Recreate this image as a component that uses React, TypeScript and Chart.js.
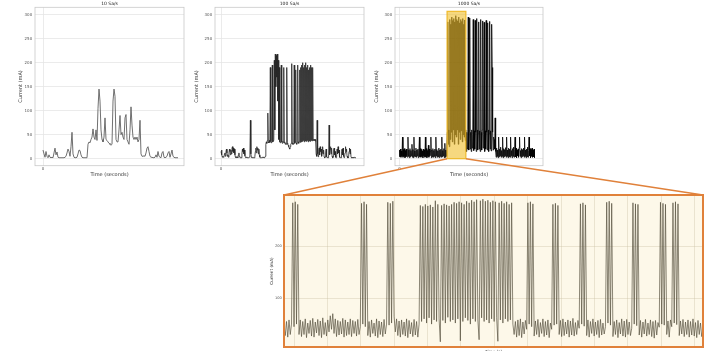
import React, { useEffect, useRef } from "react";
import { Chart, registerables } from "chart.js";
Chart.register(...registerables);

const FONT = "DejaVu Sans";

// ---- text ----
const panelTitles = ["10 Sa/s", "100 Sa/s", "1000 Sa/s"];
const xAxisTitle = "Time (seconds)";
const yAxisTitle = "Current (mA)";
const zoomXAxisTitle = "Time (s)";

// ---- ticks ----
const yTickValues = [0, 50, 100, 150, 200, 250, 300];
const xTickValues = [0];
const zoomYTickValues = [100, 200];
const zoomXGridValues = [4.8, 4.95, 5.1, 5.25, 5.4, 5.55, 5.7, 5.85, 6.0, 6.15, 6.3, 6.45, 6.6];

// ---- time ranges (s) ----
const recordDuration = 13.5;
const zoomWindow = [4.755, 6.637];
const highlightCurrentRange = [0, 307];

// ---- 10 Sa/s current (mA) ----
const current10 = [
  18, 10, 3, 15, 5, 2, 8, 3, 2, 3, 2, 12, 22, 8, 14, 3, 2, 2,
  2, 2, 2, 2, 3, 5, 12, 20, 15, 5, 25, 55, 10, 3, 2, 2, 3, 10, 18, 17,
  8, 3, 2, 2, 2, 2, 2, 30, 35, 33, 40, 45, 62, 45, 40, 60, 38, 105, 145, 120,
  60, 40, 35, 45, 85, 40, 38, 35, 32, 30, 28, 30, 120, 145, 130, 40, 35, 35, 60, 90,
  50, 55, 45, 40, 85, 92, 40, 35, 30, 60, 108, 70, 45, 40, 45, 40, 45, 35, 40, 80,
  10, 5, 5, 6, 5, 12, 22, 25, 15, 5, 3, 3, 2, 2, 3, 8, 3, 15, 5, 3,
  2, 12, 15, 3, 2, 3, 5, 12, 15, 3, 10, 18, 5, 3, 2, 2, 2, 2,
];

// ---- 100 Sa/s current (mA) ----
const current100 = [
  15, 18, 8, 3, 5, 3, 4, 10, 12, 5, 15, 20, 12, 5, 8, 3, 12, 20, 15, 8,
  18, 10, 22, 25, 15, 22, 12, 20, 8, 3, 2, 4, 2, 3, 2, 8, 12, 4, 3, 2,
  3, 2, 10, 20, 15, 22, 10, 18, 6, 3, 2, 3, 2, 2, 3, 2, 2, 3, 8, 80,
  10, 3, 2, 2, 3, 2, 3, 2, 5, 15, 22, 12, 25, 18, 22, 10, 20, 8, 3, 2,
  3, 2, 2, 3, 2, 3, 2, 2, 3, 5, 30, 35, 32, 38, 95, 35, 33, 38, 34, 190,
  36, 33, 37, 195, 35, 38, 40, 205, 60, 218, 150, 215, 170, 218, 120, 205, 40, 190, 35, 33,
  38, 195, 35, 32, 36, 34, 190, 33, 35, 30, 32, 30, 190, 32, 30, 28, 25, 22, 20, 25,
  30, 32, 198, 30, 33, 30, 34, 195, 32, 35, 185, 33, 30, 34, 195, 35, 32, 36, 185, 34,
  190, 35, 195, 36, 200, 38, 190, 35, 195, 37, 200, 36, 190, 38, 195, 35, 185, 37, 190, 36,
  195, 38, 190, 37, 190, 40, 38, 40, 38, 40, 36, 10, 5, 80, 10, 4, 15, 22, 8, 25,
  15, 20, 5, 12, 25, 10, 18, 4, 2, 3, 12, 20, 4, 2, 3, 2, 8, 70, 8, 20,
  25, 10, 22, 5, 2, 3, 18, 22, 8, 15, 3, 2, 3, 20, 10, 25, 12, 18, 3, 2,
  3, 2, 15, 20, 8, 22, 5, 2, 3, 12, 25, 15, 20, 5, 2, 3, 2, 15, 22, 10,
  20, 3, 2, 3, 2, 3, 2, 2, 3, 2, 2, 2,
];

// ---- 1000 Sa/s current (mA), shown in four stretches ----
const current1000Idle = [
  18, 4, 20, 3, 16, 6, 45, 3, 19, 5, 21, 2, 17, 4, 20, 6,
  3, 45, 5, 18, 2, 21, 4, 17, 6, 30, 3, 19, 2, 45, 5, 16,
  4, 22, 3, 18, 6, 20, 2, 17, 45, 4, 21, 3, 19, 5, 16, 2,
  20, 6, 18, 3, 45, 4, 21, 2, 17, 5, 28, 3, 20, 6, 16, 45,
  2, 18, 4, 21, 3, 17, 5, 20, 2, 45, 6, 19, 3, 16, 4, 22,
  2, 18, 5, 20, 3, 45, 4, 17, 6, 21, 2, 32, 3, 18, 5, 20,
];
const current1000Burst = [
  55, 285, 30, 60, 25, 290, 40, 280, 55, 295, 35, 288, 60, 292, 30, 285, 50, 298, 45, 290,
  60, 287, 30, 295, 55, 283, 40, 290, 58, 286, 35, 292, 50, 280, 45, 289, 38, 60,
];
const current1000Active = [
  15, 55, 20, 60, 295, 18, 58, 293, 20, 55, 15, 60, 22, 50, 290, 17, 58, 20, 288, 55,
  15, 292, 60, 18, 52, 285, 20, 58, 15, 290, 55, 18, 60, 287, 22, 50, 284, 15, 58, 20,
  288, 55, 18, 283, 60, 15, 52, 286, 20, 58, 16, 280, 190, 55, 18, 45,
];
const current1000Tail = [
  40, 20, 85, 15, 3, 22, 5, 18, 2, 45, 4, 20, 6, 24, 3, 17, 5, 45, 2, 21,
  4, 19, 6, 23, 3, 45, 5, 18, 2, 22, 4, 20, 3, 45, 6, 17, 2, 21, 5, 24,
  3, 19, 45, 4, 22, 2, 18, 6, 20, 3, 23, 45, 5, 17, 2, 21, 4, 19, 6, 22,
  3, 45, 5, 18, 2, 20, 4, 24, 3, 17, 45, 6, 21, 2, 19, 5, 22, 3, 18, 4,
  20, 2,
];

// ---- zoomed window of the 1000 Sa/s record (mA) ----
const zoomCurrent = [
  45, 28, 55, 25, 58, 30, 50,
  283, 45, 285, 50, 280, 30,
  58, 26, 55, 30, 60, 24, 52, 32, 57, 27, 61, 25, 54, 33, 59, 28, 56, 24, 62, 30,
  53, 27, 58, 35, 66, 40, 70, 32, 60, 26, 57, 29, 55, 31, 61, 25, 58, 28, 54, 30,
  60, 26, 57, 32, 55, 27, 59, 30, 45,
  282, 50, 285, 45, 280,
  28, 55, 25, 58, 32, 52, 27, 60, 24, 56, 30, 54, 26, 59, 31, 50,
  284, 48, 282, 52, 286,
  65, 35, 60, 28, 56, 25, 58, 30, 54, 27, 60, 24, 57, 31, 53, 26, 59, 29, 55, 25, 50,
  278, 55, 276, 60, 280, 52, 277, 62, 279, 50, 275, 58, 287, 55, 280, 60, 16,
  278, 57, 281, 52, 279, 63, 277, 55, 280, 58, 284, 52, 282, 60, 285, 18,
  283, 55, 280, 62, 286, 57, 283, 50, 288, 60, 285, 55, 289, 58, 20,
  287, 62, 290, 55, 286, 58, 288, 52, 284, 60, 287, 55, 285, 62, 17,
  283, 58, 286, 52, 282, 60, 285, 55, 280, 58, 283, 50,
  30, 55, 25, 58, 28, 60, 24, 54, 31, 57, 40,
  283, 50, 285, 45, 281,
  27, 56, 30, 59, 25, 53, 32, 60, 26, 55, 29, 58, 24, 52, 40,
  280, 48, 282, 50, 278,
  30, 57, 26, 60, 28, 54, 31, 58, 25, 56, 29, 61, 27, 53, 30, 57, 42,
  281, 50, 283, 46, 279,
  28, 58, 25, 55, 32, 60, 27, 54, 30, 57, 24, 59, 29, 52, 31, 45,
  284, 52, 286, 48, 282,
  26, 55, 30, 58, 24, 53, 31, 60, 27, 56, 25, 59, 30, 54, 28, 42,
  283, 50, 281, 47, 280,
  29, 57, 25, 54, 31, 59, 27, 52, 30, 58, 26, 55, 23, 57, 29, 53, 44,
  284, 50, 282, 48, 280,
  30, 56, 25, 58, 45,
  283, 52, 285, 49, 281,
  28, 56, 31, 59, 26, 54, 30, 58, 25, 55, 29, 60, 27, 53, 24, 57, 30, 52, 26, 40,
];

type Pad = { left: number; right: number; top: number; bottom: number };
type PanelSpec = {
  values: number[];
  t0: number;
  t1: number;
  color: string;
  lineWidth: number;
  xMin: number;
  xMax: number;
  yMin: number;
  yMax: number;
  xTicks: number[];
  yTicks: number[];
  showXLabels: boolean;
  title?: string;
  xTitle: string;
  yTitle: string;
  padding: Pad;
  yAxisWidth: number;
  xAxisHeight: number;
  tickSize: number;
  labelSize: number;
  titleSize?: number;
  titleGap?: number;
  gridColor: string;
  frameColor: string;
  frameWidth: number;
  frameOnTop?: boolean;
  background?: string;
  yTickPadding: number;
  xTickPadding: number;
  extra?: any[];
};

function toSeries(values: number[], t0: number, t1: number) {
  const dt = (t1 - t0) / (values.length - 1);
  return values.map((y, i) => ({ x: t0 + i * dt, y }));
}

function makePanel(canvas: HTMLCanvasElement, s: PanelSpec) {
  const drawFrame = (chart: any) => {
    const { ctx, chartArea: a } = chart;
    ctx.save();
    ctx.strokeStyle = s.frameColor;
    ctx.lineWidth = s.frameWidth;
    ctx.strokeRect(a.left, a.top, a.width, a.height);
    ctx.restore();
  };
  const frame = {
    id: "frame",
    beforeDraw(chart: any) {
      if (!s.background) return;
      const { ctx, chartArea: a } = chart;
      ctx.save();
      ctx.fillStyle = s.background;
      ctx.fillRect(a.left, a.top, a.width, a.height);
      ctx.restore();
    },
    beforeDatasetsDraw(chart: any) {
      if (!s.frameOnTop) drawFrame(chart);
    },
    afterDatasetsDraw(chart: any) {
      if (s.frameOnTop) drawFrame(chart);
    },
  };
  return new Chart(canvas, {
    type: "line",
    data: {
      datasets: [
        {
          data: toSeries(s.values, s.t0, s.t1),
          borderColor: s.color,
          borderWidth: s.lineWidth,
          pointRadius: 0,
          tension: 0,
          fill: false,
          borderJoinStyle: "round",
        } as any,
      ],
    },
    options: {
      animation: false,
      responsive: false,
      parsing: false,
      normalized: true,
      events: [],
      layout: { padding: s.padding },
      plugins: {
        legend: { display: false },
        tooltip: { enabled: false },
        title: s.title
          ? {
              display: true,
              text: s.title,
              fullSize: false,
              color: "#222",
              font: { family: FONT, size: s.titleSize, weight: "normal" },
              padding: { top: 0, bottom: s.titleGap ?? 0 },
            }
          : { display: false },
      },
      scales: {
        x: {
          type: "linear",
          min: s.xMin,
          max: s.xMax,
          afterBuildTicks: (sc: any) => {
            sc.ticks = s.xTicks.map((v) => ({ value: v }));
          },
          afterFit: (sc: any) => {
            sc.height = s.xAxisHeight;
          },
          grid: { color: s.gridColor, lineWidth: 0.8, drawTicks: false },
          border: { display: false },
          ticks: {
            display: s.showXLabels,
            autoSkip: false,
            maxRotation: 0,
            padding: s.xTickPadding,
            color: "#555",
            font: { family: FONT, size: s.tickSize },
            callback: (v: any) => String(v),
          },
          title: {
            display: true,
            text: s.xTitle,
            color: "#333",
            font: { family: FONT, size: s.labelSize },
            padding: { top: 0, bottom: 0 },
          },
        },
        y: {
          type: "linear",
          min: s.yMin,
          max: s.yMax,
          afterBuildTicks: (sc: any) => {
            sc.ticks = s.yTicks.map((v) => ({ value: v }));
          },
          afterFit: (sc: any) => {
            sc.width = s.yAxisWidth;
          },
          grid: { color: s.gridColor, lineWidth: 0.8, drawTicks: false },
          border: { display: false },
          ticks: {
            autoSkip: false,
            padding: s.yTickPadding,
            color: "#555",
            font: { family: FONT, size: s.tickSize },
            callback: (v: any) => String(v),
          },
          title: {
            display: true,
            text: s.yTitle,
            color: "#333",
            font: { family: FONT, size: s.labelSize },
            padding: { top: 0, bottom: 0 },
          },
        },
      },
    } as any,
    plugins: [frame, ...(s.extra || [])],
  });
}

const smallPanelBase = {
  t0: 0,
  t1: recordDuration,
  yMin: -14.6,
  yMax: 315.4,
  xTicks: xTickValues,
  yTicks: yTickValues,
  showXLabels: true,
  xTitle: xAxisTitle,
  yTitle: yAxisTitle,
  xAxisHeight: 12.3,
  tickSize: 4,
  labelSize: 5,
  titleSize: 4.5,
  titleGap: 0.3,
  gridColor: "#e6e6e6",
  frameColor: "#c9c9c9",
  frameWidth: 0.8,
  yTickPadding: 2.8,
  xTickPadding: 1,
};

const C1 = { left: 0, top: 0, w: 192, h: 182 };
const C2 = { left: 190, top: 0, w: 182, h: 182 };
const C3 = { left: 370, top: 0, w: 180, h: 182 };
const CZ = { left: 255, top: 185, w: 450, h: 175 };

export default function App() {
  const r1 = useRef<HTMLCanvasElement>(null);
  const r2 = useRef<HTMLCanvasElement>(null);
  const r3 = useRef<HTMLCanvasElement>(null);
  const rz = useRef<HTMLCanvasElement>(null);
  const ro = useRef<HTMLCanvasElement>(null);

  useEffect(() => {
    const current1000 = [
      ...current1000Idle,
      ...current1000Burst,
      ...current1000Active,
      ...current1000Tail,
    ];

    const highlight = {
      id: "highlight",
      afterDatasetsDraw(chart: any) {
        const { ctx, scales } = chart;
        const x1 = scales.x.getPixelForValue(zoomWindow[0]);
        const x2 = scales.x.getPixelForValue(zoomWindow[1]);
        const y1 = scales.y.getPixelForValue(highlightCurrentRange[1]);
        const y2 = scales.y.getPixelForValue(highlightCurrentRange[0]);
        ctx.save();
        ctx.fillStyle = "rgba(240,188,35,0.58)";
        ctx.fillRect(x1, y1, x2 - x1, y2 - y1);
        ctx.strokeStyle = "rgba(238,182,30,0.9)";
        ctx.lineWidth = 1.2;
        ctx.strokeRect(x1, y1, x2 - x1, y2 - y1);
        ctx.restore();
      },
    };

    const c1 = makePanel(r1.current!, {
      ...smallPanelBase,
      values: current10,
      color: "#606060",
      lineWidth: 0.9,
      xMin: -0.8,
      xMax: 14.1,
      title: panelTitles[0],
      padding: { left: 17.7, right: 8, top: 1.6, bottom: 4 },
      yAxisWidth: 17.3,
    });
    const c2 = makePanel(r2.current!, {
      ...smallPanelBase,
      values: current100,
      color: "#262626",
      lineWidth: 0.8,
      xMin: -0.6,
      xMax: 14.3,
      title: panelTitles[1],
      padding: { left: 4, right: 8, top: 1.6, bottom: 4 },
      yAxisWidth: 21,
    });
    const c3 = makePanel(r3.current!, {
      ...smallPanelBase,
      values: current1000,
      color: "#000000",
      lineWidth: 0.8,
      xMin: -0.45,
      xMax: 14.35,
      title: panelTitles[2],
      padding: { left: 4, right: 7, top: 1.6, bottom: 4 },
      yAxisWidth: 21,
      extra: [highlight],
    });
    const cz = makePanel(rz.current!, {
      values: zoomCurrent,
      t0: zoomWindow[0],
      t1: zoomWindow[1],
      color: "rgba(85,80,62,0.68)",
      lineWidth: 1,
      xMin: zoomWindow[0],
      xMax: zoomWindow[1],
      yMin: 6,
      yMax: 298,
      xTicks: zoomXGridValues,
      yTicks: zoomYTickValues,
      showXLabels: false,
      xTitle: zoomXAxisTitle,
      yTitle: yAxisTitle,
      padding: { left: 14.6, right: 2, top: 10, bottom: 5.6 },
      yAxisWidth: 14.4,
      xAxisHeight: 7.4,
      tickSize: 3.6,
      labelSize: 4.2,
      gridColor: "rgba(200,190,160,0.45)",
      frameColor: "#e0813a",
      frameWidth: 2,
      frameOnTop: true,
      background: "#fdf8e9",
      yTickPadding: 2.2,
      xTickPadding: 1,
    });

    // connector lines from the highlighted window to the zoom panel
    const ov = ro.current!;
    const ctx = ov.getContext("2d")!;
    ctx.clearRect(0, 0, ov.width, ov.height);
    const hx1 = C3.left + c3.scales.x.getPixelForValue(zoomWindow[0]);
    const hx2 = C3.left + c3.scales.x.getPixelForValue(zoomWindow[1]);
    const hy = C3.top + c3.scales.y.getPixelForValue(highlightCurrentRange[0]);
    const za = cz.chartArea;
    ctx.strokeStyle = "#e0813a";
    ctx.lineWidth = 1.4;
    ctx.beginPath();
    ctx.moveTo(hx1, hy);
    ctx.lineTo(CZ.left + za.left, CZ.top + za.top);
    ctx.moveTo(hx2, hy);
    ctx.lineTo(CZ.left + za.right, CZ.top + za.top);
    ctx.stroke();

    return () => {
      c1.destroy();
      c2.destroy();
      c3.destroy();
      cz.destroy();
    };
  }, []);

  const pos = (c: { left: number; top: number; w: number; h: number }) => ({
    position: "absolute" as const,
    left: c.left,
    top: c.top,
    width: c.w,
    height: c.h,
  });

  return (
    <div
      style={{
        position: "absolute",
        left: 0,
        top: 0,
        width: 705,
        height: 351,
        overflow: "hidden",
        background: "#ffffff",
      }}
    >
      <canvas ref={r1} width={C1.w} height={C1.h} style={pos(C1)} />
      <canvas ref={r2} width={C2.w} height={C2.h} style={pos(C2)} />
      <canvas ref={r3} width={C3.w} height={C3.h} style={pos(C3)} />
      <canvas ref={rz} width={CZ.w} height={CZ.h} style={pos(CZ)} />
      <canvas
        ref={ro}
        width={705}
        height={351}
        style={{ position: "absolute", left: 0, top: 0, width: 705, height: 351, pointerEvents: "none" }}
      />
    </div>
  );
}
